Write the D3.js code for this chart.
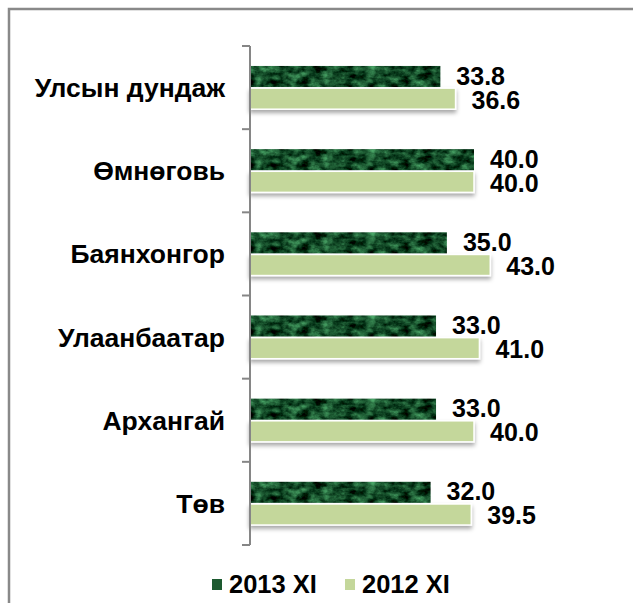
<!DOCTYPE html>
<html>
<head>
<meta charset="utf-8">
<script src="https://cdn.jsdelivr.net/npm/d3@7"></script>
<style>
  body { margin: 0; background: #fff; }
  text { font-family: "Liberation Sans", Arial, sans-serif; font-weight: bold; fill: #000; }
</style>
</head>
<body>
<div id="chart"></div>
<script>
/* horizontal grouped bars, 2013 XI vs 2012 XI */

const categories = ["Улсын дундаж", "Өмнөговь", "Баянхонгор", "Улаанбаатар", "Архангай", "Төв"];
const series = ["2013 XI", "2012 XI"];
const values2013 = [33.8, 40.0, 35.0, 33.0, 33.0, 32.0];
const values2012 = [36.6, 40.0, 43.0, 41.0, 40.0, 39.5];

const width = 633,
    height = 603,
    margin = ({ top: 46, right: 20, bottom: 58, left: 250 });

const svg = d3.select("#chart")
    .append("svg")
    .attr("width", width)
    .attr("height", height);

const defs = svg.append("defs");

// marble-ish texture for the dark bars
const marble = defs.append("filter").attr("id", "marble")
    .attr("x", 0).attr("y", 0).attr("width", 1).attr("height", 1)
    .attr("color-interpolation-filters", "sRGB");
marble.append("feTurbulence")
    .attr("type", "fractalNoise")
    .attr("baseFrequency", "0.09 0.14")
    .attr("numOctaves", 4)
    .attr("seed", 3)
    .attr("result", "noise");
marble.append("feColorMatrix")
    .attr("in", "noise")
    .attr("type", "matrix")
    .attr("values", "0.6 0 0 0 -0.22  1.0 0 0 0 -0.2  0.7 0 0 0 -0.19  0 0 0 0 1")
    .attr("result", "col");
marble.append("feComposite")
    .attr("in", "col").attr("in2", "SourceGraphic").attr("operator", "in");

const shadow = defs.append("filter").attr("id", "shadow")
    .attr("x", -0.05).attr("y", -0.2).attr("width", 1.1).attr("height", 1.8);
shadow.append("feDropShadow")
    .attr("dx", 0).attr("dy", 3).attr("stdDeviation", 2)
    .attr("flood-color", "#000").attr("flood-opacity", 0.35);

// outer frame (cropped at right and bottom)
svg.append("path")
    .attr("d", `M9,${height} V9 H${width}`)
    .attr("fill", "none")
    .attr("stroke", "#898989")
    .attr("stroke-width", 2.5);

// scales
const y0 = d3.scaleBand()
    .domain(categories)
    .range([margin.top, height - margin.bottom])
    .paddingInner(0.48)
    .paddingOuter(0.24);

const y1 = d3.scaleBand()
    .domain(series)
    .range([0, y0.bandwidth()])
    .paddingInner(0.05);

const x = d3.scaleLinear()
    .domain([-1.3, 40])
    .range([margin.left, 474]);

const rows = categories.map((c, i) => ({ cat: c, v: [values2013[i], values2012[i]] }));

const groups = svg.append("g")
    .selectAll("g")
    .data(rows)
    .join("g")
    .attr("transform", d => `translate(0,${y0(d.cat)})`);

// light bars first with shadow, then dark bars
groups.append("rect")
    .attr("x", margin.left)
    .attr("y", y1(series[1]))
    .attr("width", d => x(d.v[1]) - margin.left)
    .attr("height", y1.bandwidth())
    .attr("fill", "#c4d79b")
    .attr("stroke", "#fff")
    .attr("stroke-width", 1.5)
    .attr("filter", "url(#shadow)");

groups.append("rect")
    .attr("x", margin.left)
    .attr("y", y1(series[0]))
    .attr("width", d => x(d.v[0]) - margin.left)
    .attr("height", y1.bandwidth())
    .attr("fill", "#1d5a30")
    .attr("filter", "url(#marble)");

// value labels
series.forEach((s, k) => {
    groups.append("text")
        .attr("x", d => x(d.v[k]) + 16)
        .attr("y", y1(s) + y1.bandwidth() / 2)
        .attr("dy", k === 0 ? "0.32em" : "0.4em")
        .style("font-size", "25px")
        .text(d => d.v[k].toFixed(1));
});

// category axis
const step = y0.step();
const bounds = d3.range(categories.length + 1).map(i => y0(categories[0]) - y0.paddingOuter() * step + i * step);

const axis = svg.append("g");
axis.append("line")
    .attr("x1", margin.left).attr("x2", margin.left)
    .attr("y1", bounds[0]).attr("y2", bounds[bounds.length - 1])
    .attr("stroke", "#868686").attr("stroke-width", 2);
axis.selectAll(".tick")
    .data(bounds)
    .join("line")
    .attr("class", "tick")
    .attr("x1", margin.left - 8).attr("x2", margin.left)
    .attr("y1", d => d).attr("y2", d => d)
    .attr("stroke", "#868686").attr("stroke-width", 2);

axis.selectAll(".cat")
    .data(categories)
    .join("text")
    .attr("class", "cat")
    .attr("x", margin.left - 25)
    .attr("y", d => y0(d) + y0.bandwidth() / 2)
    .attr("dy", "0.36em")
    .attr("text-anchor", "end")
    .style("font-size", "26.5px")
    .text(d => d);

// legend
const legend = svg.append("g").attr("transform", "translate(212,584)");
const legendColors = ["#1d5a30", "#c4d79b"];
const legX = [0, 133];
series.forEach((s, k) => {
    legend.append("rect")
        .attr("x", legX[k]).attr("y", -5)
        .attr("width", 10).attr("height", 11)
        .attr("fill", legendColors[k]);
    legend.append("text")
        .attr("x", legX[k] + 17)
        .attr("y", 0)
        .attr("dy", "0.36em")
        .style("font-size", "25.5px")
        .text(s);
});
</script>
</body>
</html>
